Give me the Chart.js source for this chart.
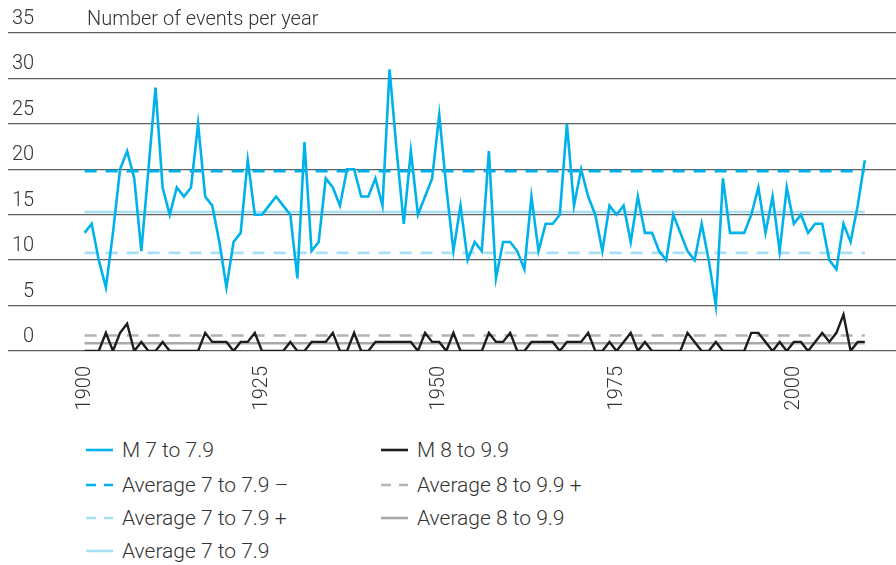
<!DOCTYPE html>
<html><head><meta charset="utf-8">
<script src="https://cdn.jsdelivr.net/npm/chart.js@4/dist/chart.umd.min.js"></script>
<style>
html,body{margin:0;padding:0;background:#fff;}
#wrap{position:relative;width:896px;height:565px;overflow:hidden;font-family:Roboto,"Liberation Sans",sans-serif;font-weight:300;color:#333;}
#c{position:absolute;left:0;top:0;}
#title{position:absolute;left:87px;top:7px;font-size:20px;line-height:22px;white-space:nowrap;}
.leg{position:absolute;font-size:21px;line-height:22px;display:flex;align-items:center;white-space:nowrap;}
.leg svg{margin-right:9px;}
</style></head>
<body><div id="wrap">
<canvas id="c" width="896" height="420"></canvas>
<div id="title">Number of events per year</div>
<div id="legend"></div>
</div>
<script>
const years = [1900,1901,1902,1903,1904,1905,1906,1907,1908,1909,1910,1911,1912,1913,1914,1915,1916,1917,1918,1919,
1920,1921,1922,1923,1924,1925,1926,1927,1928,1929,1930,1931,1932,1933,1934,1935,1936,1937,1938,1939,
1940,1941,1942,1943,1944,1945,1946,1947,1948,1949,1950,1951,1952,1953,1954,1955,1956,1957,1958,1959,
1960,1961,1962,1963,1964,1965,1966,1967,1968,1969,1970,1971,1972,1973,1974,1975,1976,1977,1978,1979,
1980,1981,1982,1983,1984,1985,1986,1987,1988,1989,1990,1991,1992,1993,1994,1995,1996,1997,1998,1999,
2000,2001,2002,2003,2004,2005,2006,2007,2008,2009,2010];

const m7 = [13,14,10,7,13,20,22,19,11,20,29,18,15,18,17,18,25,17,16,12,
7,12,13,21,15,15,16,17,16,15,8,23,11,12,19,18,16,20,20,17,
17,19,16,31,22,14,22,15,17,19,26,18,11,16,10,12,11,22,8,12,
12,11,9,17,11,14,14,15,25,16,20,17,15,11,16,15,16,12,17,13,
13,11,10,15,13,11,10,14,10,5,19,13,13,13,15,18,13,17,11,18,
14,15,13,14,14,10,9,14,12,16,21];

const m8 = [0,0,0,2,0,2,3,0,1,0,0,1,0,0,0,0,0,2,1,1,
1,0,1,1,2,0,0,0,0,1,0,0,1,1,1,2,0,0,2,0,
0,1,1,1,1,1,1,0,2,1,1,0,2,0,0,0,0,2,1,1,
2,0,0,1,1,1,1,0,1,1,1,2,0,0,1,0,1,2,0,1,
0,0,0,0,0,2,1,0,0,1,0,0,0,0,2,2,1,0,1,0,
1,1,0,1,2,1,2,4,0,1,1];

const avg7Minus = 19.8;   // "Average 7 to 7.9 –"
const avg7Plus  = 10.8;   // "Average 7 to 7.9 +"
const avg7      = 15.3;   // "Average 7 to 7.9"
const avg8Plus  = 1.7;    // "Average 8 to 9.9 +"
const avg8      = 0.85;   // "Average 8 to 9.9"

const xTicks = [1900, 1925, 1950, 1975, 2000];
const yTicks = [0, 5, 10, 15, 20, 25, 30, 35];

const labels = {
  m7: 'M 7 to 7.9',
  m8: 'M 8 to 9.9',
  a7m: 'Average 7 to 7.9 \u2013',
  a8p: 'Average 8 to 9.9 +',
  a7p: 'Average 7 to 7.9 +',
  a8: 'Average 8 to 9.9',
  a7: 'Average 7 to 7.9'
};

const BLUE = '#00b2ea', LBLUE = '#a9dff5', BLACK = '#1d1d1d', GRAY_D = '#b3b3b3', GRAY_S = '#a9a9a9';
const DASH = [12, 9];

const series = (arr) => arr.map((v, i) => ({x: years[i], y: v}));
const flat = (v) => [{x: years[0], y: v}, {x: years[years.length - 1], y: v}];

const datasets = [
  {label: labels.m7, data: series(m7), borderColor: BLUE, borderWidth: 2.6},
  {label: labels.m8, data: series(m8), borderColor: BLACK, borderWidth: 2.4},
  {label: labels.a7m, data: flat(avg7Minus), borderColor: BLUE, borderWidth: 2.6, borderDash: DASH},
  {label: labels.a8p, data: flat(avg8Plus), borderColor: GRAY_D, borderWidth: 2.6, borderDash: DASH},
  {label: labels.a7p, data: flat(avg7Plus), borderColor: LBLUE, borderWidth: 2.6, borderDash: DASH},
  {label: labels.a8, data: flat(avg8), borderColor: GRAY_S, borderWidth: 2.6},
  {label: labels.a7, data: flat(avg7), borderColor: LBLUE, borderWidth: 2.6}
];
datasets.forEach(d => { d.pointRadius = 0; d.tension = 0; d.fill = false; d.borderJoinStyle = 'miter'; d.borderCapStyle = 'butt'; });

const FONT = {family: 'Roboto, "Liberation Sans", sans-serif', size: 20, weight: 300};

new Chart(document.getElementById('c'), {
  type: 'line',
  data: {datasets},
  options: {
    responsive: false,
    devicePixelRatio: 1,
    animation: false,
    layout: {padding: {left: 8, right: 0, top: 33, bottom: 0}},
    plugins: {legend: {display: false}, tooltip: {enabled: false}},
    scales: {
      x: {
        type: 'linear', min: 1889.2, max: 2014.4,
        grid: {display: false}, border: {display: false},
        afterBuildTicks: s => { s.ticks = xTicks.map(v => ({value: v})); },
        afterFit: s => { s.height = 69; },
        ticks: {autoSkip: false, minRotation: 90, maxRotation: 90, color: '#333', font: FONT, padding: 7,
                callback: v => String(v)}
      },
      y: {
        min: 0, max: 35,
        afterBuildTicks: s => { s.ticks = yTicks.map(v => ({value: v})); },
        afterFit: s => { s.width = 0; },
        border: {display: false},
        grid: {color: '#5f5f5f', lineWidth: 1.3, drawTicks: false},
        ticks: {mirror: true, crossAlign: 'far', padding: 4, labelOffset: -14, color: '#333', font: FONT,
                callback: v => String(v)}
      }
    }
  }
});

// HTML legend (two columns)
const legendItems = [
  {label: labels.m7, color: BLUE, dash: null, col: 0, row: 0},
  {label: labels.a7m, color: BLUE, dash: DASH, col: 0, row: 1},
  {label: labels.a7p, color: LBLUE, dash: DASH, col: 0, row: 2},
  {label: labels.a7, color: LBLUE, dash: null, col: 0, row: 3},
  {label: labels.m8, color: BLACK, dash: null, col: 1, row: 0},
  {label: labels.a8p, color: GRAY_D, dash: DASH, col: 1, row: 1},
  {label: labels.a8, color: GRAY_S, dash: null, col: 1, row: 2}
];
const colX = [86, 381], rowY = [450, 485, 518, 551];
const lg = document.getElementById('legend');
legendItems.forEach(it => {
  const d = document.createElement('div');
  d.className = 'leg';
  d.style.left = colX[it.col] + 'px';
  d.style.top = (rowY[it.row] - 11) + 'px';
  const da = it.dash ? ` stroke-dasharray="${it.dash[0] - 2} ${it.dash[1] - 1}"` : '';
  d.innerHTML = `<svg width="27" height="6"><line x1="0" y1="3" x2="27" y2="3" stroke="${it.color}" stroke-width="2.6"${da}/></svg><span></span>`;
  d.querySelector('span').textContent = it.label;
  lg.appendChild(d);
});
</script>
</body></html>
